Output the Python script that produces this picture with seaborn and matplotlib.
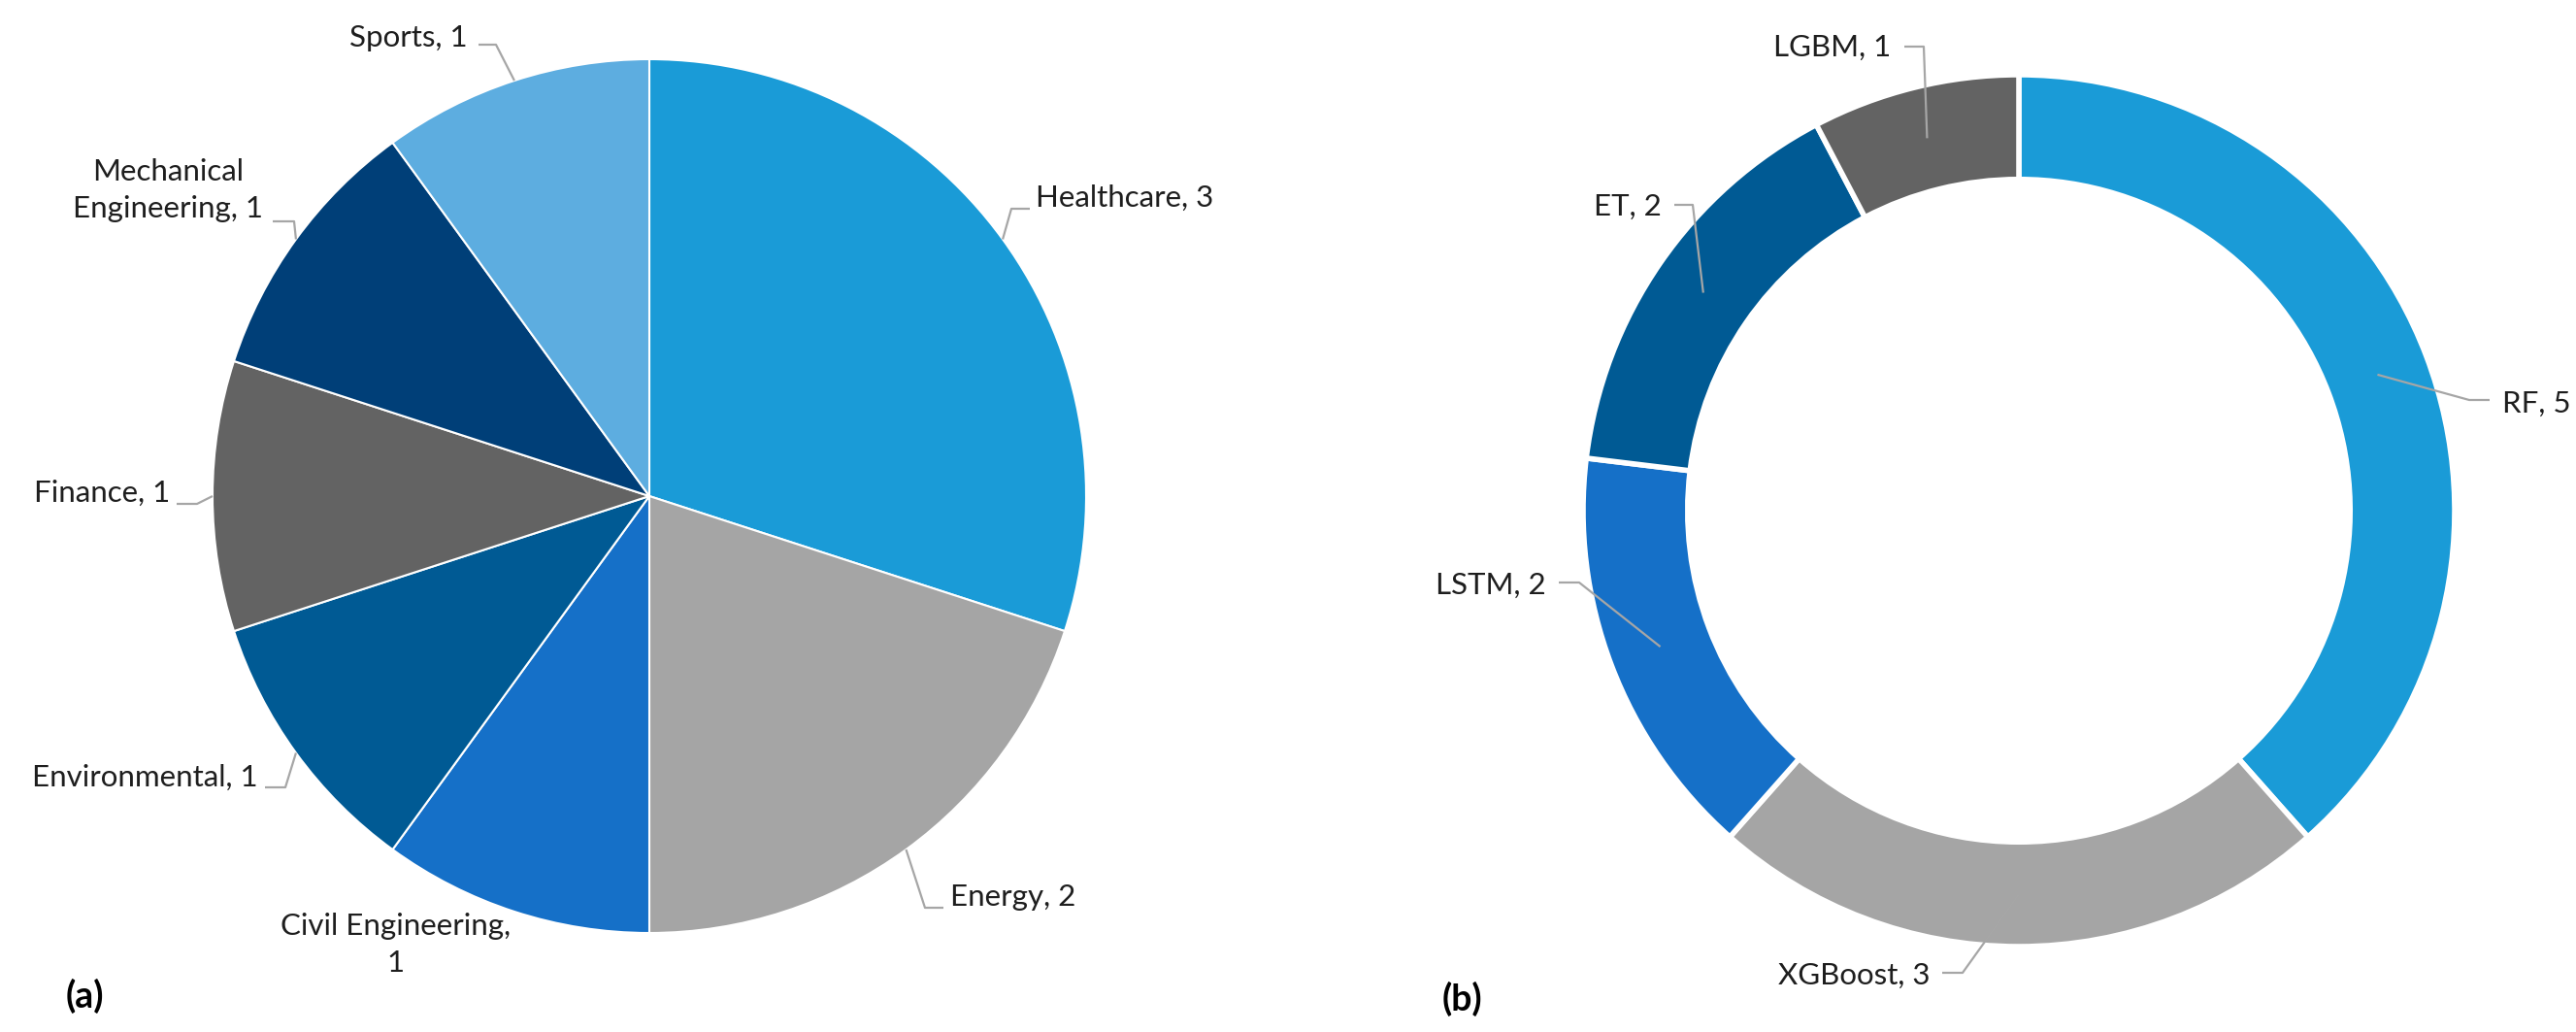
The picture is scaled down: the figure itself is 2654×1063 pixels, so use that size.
import numpy as np
import matplotlib
matplotlib.use("Agg")
import matplotlib.pyplot as plt
import seaborn as sns

# data
domains = ['Healthcare', 'Energy', 'Civil Engineering', 'Environmental',
           'Finance', 'Mechanical Engineering', 'Sports']
domain_counts = [3, 2, 1, 1, 1, 1, 1]
models = ['RF', 'XGBoost', 'LSTM', 'ET', 'LGBM']
model_counts = [5, 3, 2, 2, 1]

# label texts as they appear on the chart
domain_labels = ['Healthcare, 3', 'Energy, 2', 'Civil Engineering,\n1', 'Environmental, 1',
                 'Finance, 1', 'Mechanical\nEngineering, 1', 'Sports, 1']
model_labels = ['RF, 5', 'XGBoost, 3', 'LSTM, 2', 'ET, 2', 'LGBM, 1']

sns.set_theme(style="white")
plt.rcParams['font.family'] = ['Lato', 'DejaVu Sans']

pal_a = sns.color_palette(['#1A9BD7', '#A5A5A5', '#1570C8', '#005A94',
                           '#636363', '#003F78', '#5DADE0'])
pal_b = sns.color_palette(['#1A9BD7', '#A5A5A5', '#1570C8', '#005A94', '#636363'])

W, H = 2654, 1063
fig = plt.figure(figsize=(W / 100, H / 100), dpi=100)
ax = fig.add_axes([0, 0, 1, 1])

# pixel layout (image coords, y down)
ca, ra = (669, 511), 450
cb, rb = (2080, 526), 449
ring = 0.24


def fy(y):
    return H - y


wa, _ = ax.pie(domain_counts, colors=pal_a, startangle=90, counterclock=False,
               center=(ca[0], fy(ca[1])), radius=ra, frame=True,
               wedgeprops=dict(edgecolor='white', linewidth=1.5))
wb, _ = ax.pie(model_counts, colors=pal_b, startangle=90, counterclock=False,
               center=(cb[0], fy(cb[1])), radius=rb, frame=True,
               wedgeprops=dict(width=rb * ring, edgecolor='white', linewidth=4))

txt_color = '#1e1e1e'
lead_color = '#A6A6A6'
fs = 22.5

# (text x, text y, ha, elbow start, elbow end) -- None means no leader
pos_a = [
    (1067, 204, 'left', (1061, 215), (1042, 215)),
    (979, 924, 'left', (972, 935), (953, 935)),
    (408, 973, 'center', None, None),
    (266, 801, 'right', (273, 811), (294, 811)),
    (175, 508, 'right', (182, 519), (203, 519)),
    (173, 196, 'center', (281, 228), (303, 228)),
    (482, 39, 'right', (493, 46), (511, 46)),
]
pos_b = [
    (2578, 416, 'left', (2565, 412), (2544, 412)),
    (1988, 1005, 'right', (2001, 1002), (2022, 1002)),
    (1593, 603, 'right', (1606, 600), (1627, 600)),
    (1712, 213, 'right', (1725, 211), (1744, 211)),
    (1948, 49, 'right', (1962, 48), (1982, 48)),
]


def label(wedges, labels, pos, center, r_anchor):
    for w, lab, (tx, ty, ha, e0, e1) in zip(wedges, labels, pos):
        ax.text(tx, fy(ty), lab, ha=ha, va='center', fontsize=fs,
                color=txt_color, multialignment='center', linespacing=1.4)
        if e0 is None:
            continue
        mid = np.deg2rad((w.theta1 + w.theta2) / 2)
        px = center[0] + r_anchor * np.cos(mid)
        py = fy(center[1]) + r_anchor * np.sin(mid)
        ax.plot([e0[0], e1[0], px], [fy(e0[1]), fy(e1[1]), py],
                color=lead_color, lw=1.6, solid_capstyle='butt', zorder=5)


label(wa, domain_labels, pos_a, ca, ra)
label(wb, model_labels, pos_b, cb, rb * (1 - ring / 2))

ax.text(87, fy(1026), '(a)', ha='center', va='center', fontsize=27,
        fontweight='bold', color='black')
ax.text(1506, fy(1029), '(b)', ha='center', va='center', fontsize=27,
        fontweight='bold', color='black')

ax.set_xlim(0, W)
ax.set_ylim(0, H)
ax.axis('off')

fig.savefig('out.png', dpi=100, facecolor='white')
